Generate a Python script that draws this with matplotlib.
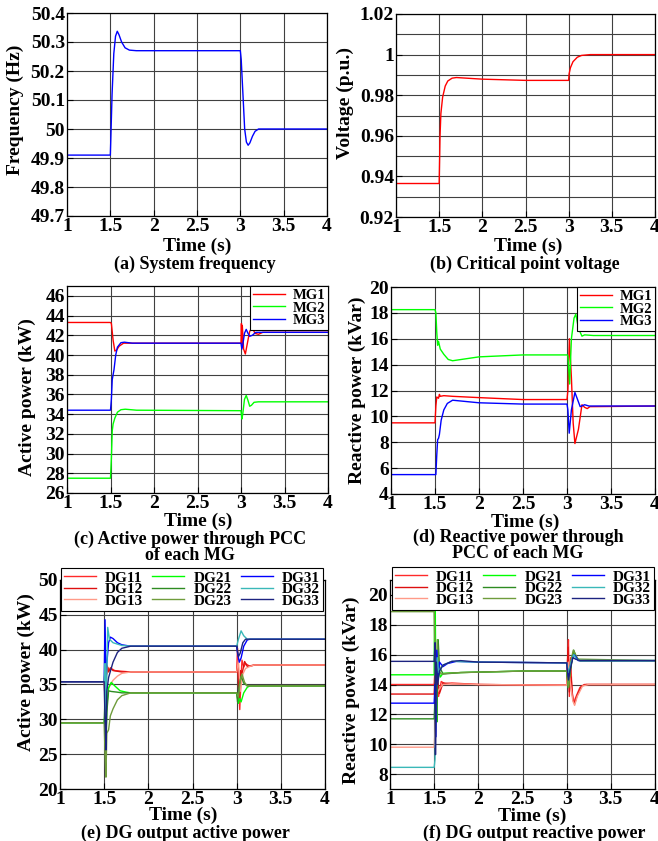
import matplotlib
matplotlib.use("Agg")
import matplotlib.pyplot as plt
from matplotlib.ticker import MultipleLocator, FuncFormatter

plt.rcParams['font.family'] = ['Liberation Serif', 'DejaVu Serif']
plt.rcParams['font.weight'] = 'bold'

# ---- (a) system frequency ----
t_freq = [1, 1.5, 1.505, 1.52, 1.54, 1.56, 1.58, 1.6, 1.63, 1.67, 1.72, 1.8, 3.0, 3.01, 3.03,
          3.05, 3.07, 3.09, 3.11, 3.14, 3.17, 3.21, 4]
freq = [49.91, 49.91, 49.96, 50.12, 50.26, 50.32, 50.337, 50.325, 50.3, 50.28, 50.272, 50.27, 50.27,
        50.24, 50.12, 50.0, 49.955, 49.944, 49.952, 49.975, 49.992, 50.0, 50.0]

# ---- (b) critical point voltage ----
t_volt = [1, 1.5, 1.505, 1.51, 1.52, 1.54, 1.57, 1.6, 1.65, 1.7, 2.0, 2.5, 3.0, 3.005, 3.02,
          3.05, 3.1, 3.15, 3.25, 4]
volt = [0.9365, 0.9365, 0.948, 0.96, 0.971, 0.979, 0.9845, 0.987, 0.9884, 0.9887, 0.9879, 0.9873,
        0.9873, 0.9905, 0.9935, 0.9965, 0.9987, 0.9996, 1.0, 1.0]

# ---- (c) active power through PCC ----
t_p_mg1 = [1, 1.5, 1.51, 1.53, 1.55, 1.57, 1.6, 1.65, 1.7, 3.0, 3.005, 3.01, 3.015, 3.03,
           3.05, 3.08, 3.1, 3.13, 3.16, 3.2, 3.25, 4]
p_mg1 = [43.3, 43.3, 43.2, 41.5, 40.4, 40.5, 40.9, 41.2, 41.2, 41.2, 43.2, 40.8, 43.0, 40.6,
         40.1, 41.5, 42.4, 42.8, 42.2, 42.1, 42.3, 42.3]
t_p_mg2 = [1, 1.5, 1.51, 1.52, 1.53, 1.55, 1.58, 1.62, 1.67, 1.8, 3.0, 3.01, 3.02, 3.04,
           3.06, 3.08, 3.1, 3.12, 3.15, 3.2, 4]
p_mg2 = [27.5, 27.5, 29.5, 32.3, 33.0, 33.6, 34.2, 34.45, 34.5, 34.4, 34.35, 33.5, 34.0, 35.5,
         35.9, 35.4, 34.8, 34.9, 35.2, 35.25, 35.25]
t_p_mg3 = [1, 1.5, 1.51, 1.52, 1.54, 1.56, 1.58, 1.62, 1.66, 1.75, 3.0, 3.01, 3.02, 3.04,
           3.06, 3.08, 3.1, 3.13, 3.17, 3.22, 4]
p_mg3 = [34.4, 34.4, 35.5, 37.5, 38.5, 40.0, 40.8, 41.25, 41.3, 41.2, 41.2, 40.6, 41.0, 42.2,
         42.6, 42.2, 41.9, 42.0, 42.3, 42.3, 42.3]

# ---- (d) reactive power through PCC ----
t_q_mg1 = [1, 1.5, 1.51, 1.52, 1.54, 1.55, 1.56, 1.6, 1.7, 2.0, 2.5, 3.0, 3.01, 3.027, 3.05,
           3.07, 3.09, 3.13, 3.17, 3.2, 3.23, 3.26, 4]
q_mg1 = [9.5, 9.5, 10.8, 11.5, 11.4, 11.7, 11.55, 11.6, 11.55, 11.45, 11.3, 11.3, 12.0, 16.0,
         13.0, 9.5, 7.9, 9.0, 10.9, 10.7, 10.6, 10.75, 10.8]
t_q_mg2 = [1, 1.5, 1.51, 1.52, 1.53, 1.54, 1.56, 1.6, 1.65, 1.7, 2.0, 2.5, 3.0, 3.01, 3.03,
           3.05, 3.08, 3.1, 3.13, 3.17, 3.2, 3.3, 4]
q_mg2 = [18.25, 18.25, 18.0, 16.5, 15.5, 15.8, 15.2, 14.8, 14.4, 14.3, 14.6, 14.75, 14.75, 14.7,
         12.5, 16.0, 17.6, 17.9, 16.8, 16.2, 16.3, 16.25, 16.25]
t_q_mg3 = [1, 1.51, 1.52, 1.53, 1.54, 1.55, 1.57, 1.6, 1.64, 1.7, 2.0, 2.5, 3.0, 3.01, 3.025,
           3.05, 3.09, 3.12, 3.15, 3.2, 3.25, 4]
q_mg3 = [5.5, 5.5, 7.0, 8.2, 8.3, 8.6, 9.7, 10.5, 11.0, 11.25, 11.05, 10.95, 10.95, 10.5, 8.7,
         10.5, 11.85, 11.3, 10.75, 10.9, 10.8, 10.8]

# ---- (e) DG output active power ----
dg_names = ['DG11', 'DG12', 'DG13', 'DG21', 'DG22', 'DG23', 'DG31', 'DG32', 'DG33']
dg_colors = ['#ff2a2a', '#dd1010', '#ff9a88', '#00ff00', '#2e8b22', '#6f9c3c',
             '#0000ff', '#3ab8b8', '#1c2380']

t_pdg11 = [1, 1.5, 1.51, 1.52, 1.53, 1.54, 1.56, 1.58, 1.62, 1.7, 1.8, 3.0, 3.01, 3.02, 3.035,
           3.05, 3.06, 3.08, 3.1, 3.15, 3.2, 4]
pdg11 = [35.4, 35.4, 33, 38, 36.5, 37.5, 37.0, 37.3, 37.0, 36.9, 36.8, 36.8, 40.2, 35, 31.4,
         36, 38.5, 37.5, 38.0, 37.6, 37.8, 37.8]
t_pdg12 = [1, 1.5, 1.51, 1.52, 1.53, 1.55, 1.57, 1.6, 1.7, 3.0, 3.015, 3.03, 3.045, 3.06, 3.09,
           3.12, 3.2, 4]
pdg12 = [35.4, 35.4, 37, 34, 37.8, 36.8, 37.4, 37.0, 36.8, 36.8, 38, 33, 37, 36.5, 38.3, 37.6,
         37.8, 37.8]
t_pdg13 = [1, 1.5, 1.52, 1.55, 1.6, 1.65, 1.7, 1.8, 3.0, 3.02, 3.04, 3.07, 3.1, 3.15, 3.2, 4]
pdg13 = [35.4, 35.4, 32, 34.5, 35.6, 36.2, 36.6, 36.8, 36.8, 38.5, 34, 36.5, 37.3, 37.6, 37.8, 37.8]
t_pdg21 = [1, 1.5, 1.51, 1.52, 1.53, 1.55, 1.58, 1.62, 1.68, 1.75, 1.8, 3.0, 3.02, 3.035, 3.05,
           3.08, 3.12, 3.15, 4]
pdg21 = [29.5, 29.5, 31, 27, 32, 34.5, 35.3, 34.8, 34.1, 33.9, 33.8, 33.8, 32.3, 33.0, 32.5,
         33.8, 34.6, 34.8, 34.8]
t_pdg22 = [1, 1.5, 1.51, 1.52, 1.53, 1.55, 1.58, 1.65, 1.7, 3.0, 3.01, 3.03, 3.05, 3.08, 3.12, 4]
pdg22 = [29.5, 29.5, 33, 25, 31, 34.1, 34.0, 33.9, 33.8, 33.8, 32.5, 35, 36.2, 35.2, 34.8, 34.8]
t_pdg23 = [1, 1.5, 1.51, 1.52, 1.53, 1.55, 1.57, 1.6, 1.65, 1.7, 1.8, 3.0, 3.02, 3.04, 3.06,
           3.09, 3.12, 4]
pdg23 = [29.5, 29.5, 25, 21.7, 28, 28.5, 30.5, 31.5, 32.8, 33.4, 33.8, 33.8, 33.2, 35.5, 36.5,
         35.3, 34.8, 34.8]
t_pdg31 = [1, 1.5, 1.51, 1.52, 1.53, 1.55, 1.57, 1.6, 1.65, 1.7, 1.8, 3.0, 3.01, 3.03, 3.05,
           3.08, 3.12, 3.15, 4]
pdg31 = [35.4, 35.4, 44.3, 36, 38, 41, 41.8, 41.6, 41.0, 40.7, 40.5, 40.5, 39.5, 38.2, 38.8,
         40.5, 41.4, 41.5, 41.5]
t_pdg32 = [1, 1.5, 1.51, 1.52, 1.54, 1.56, 1.6, 1.7, 1.8, 3.0, 3.02, 3.05, 3.08, 3.12, 4]
pdg32 = [35.4, 35.4, 38, 30, 43.2, 41.5, 41.0, 40.6, 40.5, 40.5, 41.5, 42.7, 42.0, 41.5, 41.5]
t_pdg33 = [1, 1.5, 1.51, 1.52, 1.53, 1.55, 1.6, 1.65, 1.7, 1.8, 3.0, 3.02, 3.04, 3.07, 3.1, 4]
pdg33 = [35.4, 35.4, 30, 25.6, 34, 36, 38.2, 39.6, 40.2, 40.5, 40.5, 39.0, 39.5, 41.0, 41.5, 41.5]

# ---- (f) DG output reactive power ----
t_qdg11 = [1, 1.5, 1.51, 1.52, 1.53, 1.55, 1.58, 1.62, 1.7, 2.0, 3.0, 3.01, 3.02, 3.03, 3.045,
           3.06, 3.08, 3.1, 3.15, 3.2, 4]
qdg11 = [14.0, 14.0, 15, 12.5, 14.5, 13.2, 14.2, 14.05, 14.1, 14.0, 13.95, 15.5, 17.0, 13.2,
         15.8, 13.5, 12.8, 13.1, 13.8, 14.0, 14.0]
t_qdg12 = [1, 1.5, 1.51, 1.52, 1.54, 1.56, 1.6, 1.7, 2.0, 3.0, 3.015, 3.03, 3.05, 3.07, 3.09,
           3.12, 3.17, 3.22, 4]
qdg12 = [13.36, 13.36, 14.5, 13.0, 14.3, 13.4, 14.1, 14.05, 14.0, 13.95, 16.5, 13.5, 14.5, 13.0,
         12.7, 13.3, 13.9, 14.0, 14.0]
t_qdg13 = [1, 1.5, 1.51, 1.52, 1.54, 1.57, 1.6, 1.7, 2.0, 3.0, 3.02, 3.04, 3.07, 3.09, 3.12,
           3.18, 3.25, 4]
qdg13 = [9.8, 9.8, 11, 15, 13.5, 13.8, 14.0, 14.05, 14.0, 13.95, 15.5, 14.2, 12.9, 12.6, 13.2,
         13.9, 14.0, 14.0]
t_qdg21 = [1, 1.5, 1.505, 1.51, 1.52, 1.53, 1.54, 1.55, 1.57, 1.6, 1.8, 2.5, 3.0, 3.02, 3.04,
           3.07, 3.09, 3.12, 3.15, 4]
qdg21 = [14.65, 14.65, 19.5, 21, 13, 11.5, 17, 15, 14.5, 14.75, 14.8, 14.9, 14.9, 13.8, 15.0,
         16.0, 16.1, 15.7, 15.6, 15.6]
t_qdg22 = [1, 1.5, 1.51, 1.52, 1.53, 1.545, 1.56, 1.6, 1.8, 2.5, 3.0, 3.02, 3.04, 3.07, 3.08,
           3.11, 3.15, 4]
qdg22 = [11.7, 11.7, 13, 16, 11.5, 17.0, 15.2, 14.7, 14.8, 14.9, 14.9, 14.0, 14.8, 16.0, 16.3,
         15.8, 15.6, 15.6]
t_qdg23 = [1, 1.5, 1.51, 1.52, 1.535, 1.55, 1.58, 1.65, 1.8, 2.5, 3.0, 3.02, 3.045, 3.075, 3.1,
           3.13, 4]
qdg23 = [18.88, 18.88, 16, 12.5, 17.0, 15.0, 14.7, 14.75, 14.8, 14.9, 14.9, 13.8, 15.5, 16.3,
         16.0, 15.7, 15.6]
t_qdg31 = [1, 1.5, 1.51, 1.52, 1.53, 1.545, 1.56, 1.6, 1.65, 1.75, 2.0, 3.0, 3.02, 3.04, 3.08,
           3.1, 3.13, 4]
qdg31 = [12.75, 12.75, 14, 10.5, 16.3, 14.5, 15.5, 15.2, 15.4, 15.55, 15.5, 15.45, 14.5, 15.2,
         16.0, 15.9, 15.6, 15.6]
t_qdg32 = [1, 1.5, 1.51, 1.52, 1.535, 1.55, 1.6, 1.7, 2.0, 3.0, 3.02, 3.05, 3.08, 3.11, 3.15, 4]
qdg32 = [8.45, 8.45, 9.0, 14, 15.8, 14.8, 15.3, 15.55, 15.5, 15.45, 14.8, 15.5, 16.0, 15.7, 15.6, 15.6]
t_qdg33 = [1, 1.5, 1.51, 1.515, 1.525, 1.54, 1.56, 1.6, 1.7, 1.8, 2.0, 3.0, 3.02, 3.04, 3.07,
           3.1, 3.15, 4]
qdg33 = [15.55, 15.55, 16.8, 9.3, 15.5, 14.0, 14.9, 15.3, 15.55, 15.6, 15.5, 15.45, 14.3, 15.0,
         15.8, 15.7, 15.6, 15.6]

W, H = 658, 841
fig = plt.figure(figsize=(W / 100, H / 100), dpi=100)


def px_axes(left, top, right, bottom):
    return fig.add_axes([left / W, 1 - bottom / H, (right - left) / W, (bottom - top) / H])


def ftext(x, y, s, **kw):
    fig.text(x / W, 1 - y / H, s, ha='center', va='center', fontweight='bold', **kw)


def style(ax, ylim, ystep, ygrid=None):
    ax.set_xlim(1, 4)
    ax.set_ylim(*ylim)
    ax.xaxis.set_major_locator(MultipleLocator(0.5))
    ax.yaxis.set_major_locator(MultipleLocator(ystep))
    ax.xaxis.set_major_formatter(FuncFormatter(lambda v, p: f'{v:g}'))
    ax.yaxis.set_major_formatter(FuncFormatter(lambda v, p: f'{round(v, 4):g}'))
    if ygrid:
        ax.yaxis.set_minor_locator(MultipleLocator(ygrid))
        ax.grid(True, which='minor', axis='y', color='#404040', lw=0.8)
        ax.tick_params(which='minor', length=0)
    ax.grid(True, which='major', color='#404040', lw=0.8)
    ax.set_axisbelow(True)
    ax.tick_params(direction='in', labelsize=14, length=4, pad=1.5)
    for lab in ax.get_xticklabels() + ax.get_yticklabels():
        lab.set_fontweight('bold')
    for sp in ax.spines.values():
        sp.set_linewidth(0.9)


lab_fs = 14
cap_fs = 13

# (a)
ax = px_axes(67, 13, 327, 216)
ax.plot(t_freq, freq, color='#0000ff', lw=1)
style(ax, (49.7, 50.4), 0.1)
ftext(15, 110, 'Frequency (Hz)', rotation=90, fontsize=lab_fs)
ftext(197, 246, 'Time (s)', fontsize=lab_fs)
ftext(195, 264, '(a) System frequency', fontsize=cap_fs)

# (b)
ax = px_axes(396, 14, 655, 217)
ax.plot(t_volt, volt, color='#ff0000', lw=1)
style(ax, (0.92, 1.02), 0.02, ygrid=0.01)
ftext(345, 103, 'Voltage (p.u.)', rotation=90, fontsize=lab_fs)
ftext(528, 246, 'Time (s)', fontsize=lab_fs)
ftext(525, 264, '(b) Critical point voltage', fontsize=cap_fs)

leg_kw = dict(prop={'weight': 'bold', 'size': 10.5}, frameon=True, fancybox=False,
              edgecolor='black', framealpha=1, borderaxespad=0, borderpad=0.2,
              handletextpad=0.5, labelspacing=-0.05, handlelength=2.2)

# (c)
ax = px_axes(67, 286, 328, 493)
ax.plot(t_p_mg1, p_mg1, color='#ff0000', lw=1, label='MG1')
ax.plot(t_p_mg2, p_mg2, color='#00ff00', lw=1, label='MG2')
ax.plot(t_p_mg3, p_mg3, color='#0000ff', lw=1, label='MG3')
style(ax, (26, 47), 2)
lg = ax.legend(loc='upper right', **leg_kw)
lg.get_frame().set_linewidth(0.8)
ftext(27, 397, 'Active power (kW)', rotation=90, fontsize=lab_fs)
ftext(198, 521, 'Time (s)', fontsize=lab_fs)
ftext(190, 539, '(c) Active power through PCC', fontsize=cap_fs)
ftext(190, 555, 'of each MG', fontsize=cap_fs)

# (d)
ax = px_axes(391, 287, 655, 494)
ax.plot(t_q_mg1, q_mg1, color='#ff0000', lw=1, label='MG1')
ax.plot(t_q_mg2, q_mg2, color='#00ff00', lw=1, label='MG2')
ax.plot(t_q_mg3, q_mg3, color='#0000ff', lw=1, label='MG3')
style(ax, (4, 20), 2)
lg = ax.legend(loc='upper right', **leg_kw)
lg.get_frame().set_linewidth(0.8)
ftext(357, 390, 'Reactive power (kVar)', rotation=90, fontsize=lab_fs)
ftext(525, 522, 'Time (s)', fontsize=lab_fs)
ftext(518, 537, '(d) Reactive power through', fontsize=cap_fs)
ftext(518, 554, 'PCC of each MG', fontsize=cap_fs)

dg_leg_kw = dict(prop={'weight': 'bold', 'size': 11}, ncol=3, frameon=True, fancybox=False,
                 edgecolor='black', framealpha=1, borderpad=0.2, handletextpad=0.6,
                 labelspacing=-0.15, handlelength=2.1, columnspacing=0.6, borderaxespad=0,
                 loc='upper center', bbox_transform=fig.transFigure)

# (e)
ax = px_axes(60, 580, 325, 789)
pdg_t = [t_pdg11, t_pdg12, t_pdg13, t_pdg21, t_pdg22, t_pdg23, t_pdg31, t_pdg32, t_pdg33]
pdg_v = [pdg11, pdg12, pdg13, pdg21, pdg22, pdg23, pdg31, pdg32, pdg33]
for tt, vv, c, n in zip(pdg_t, pdg_v, dg_colors, dg_names):
    ax.plot(tt, vv, color=c, lw=1, label=n)
style(ax, (20, 50), 5)
lg = ax.legend(bbox_to_anchor=(192 / W, 1 - 568 / H), **dg_leg_kw)
lg.get_frame().set_linewidth(0.8)
ftext(26, 672, 'Active power (kW)', rotation=90, fontsize=lab_fs)
ftext(183, 815, 'Time (s)', fontsize=lab_fs)
ftext(185, 833, '(e) DG output active power', fontsize=cap_fs)

# (f)
ax = px_axes(390, 580, 655, 789)
qdg_t = [t_qdg11, t_qdg12, t_qdg13, t_qdg21, t_qdg22, t_qdg23, t_qdg31, t_qdg32, t_qdg33]
qdg_v = [qdg11, qdg12, qdg13, qdg21, qdg22, qdg23, qdg31, qdg32, qdg33]
for tt, vv, c, n in zip(qdg_t, qdg_v, dg_colors, dg_names):
    ax.plot(tt, vv, color=c, lw=1, label=n)
style(ax, (7, 21), 2)
lg = ax.legend(bbox_to_anchor=(523 / W, 1 - 567 / H), **dg_leg_kw)
lg.get_frame().set_linewidth(0.8)
ftext(351, 690, 'Reactive power (kVar)', rotation=90, fontsize=lab_fs)
ftext(532, 816, 'Time (s)', fontsize=lab_fs)
ftext(534, 833, '(f) DG output reactive power', fontsize=cap_fs)

fig.savefig('out.png', dpi=100)
